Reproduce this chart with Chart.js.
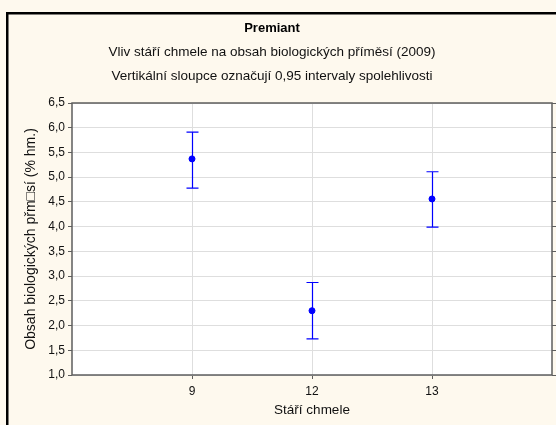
<!DOCTYPE html>
<html>
<head>
<meta charset="utf-8">
<script src="https://cdn.jsdelivr.net/npm/chart.js@4"></script>
<style>
  body { margin: 0; background: #fef9ee; }
  #wrap { width: 556px; height: 425px; }
</style>
</head>
<body>
<div id="wrap"><canvas id="chart"></canvas></div>
<script>
// Stáří chmele (kategorie) a průměry s 0,95 intervaly spolehlivosti
const kategorie = ['9', '12', '13'];
const prumer = [5.37, 2.30, 4.56];
const horniMez = [5.91, 2.87, 5.11];
const dolniMez = [4.78, 1.73, 3.99];
const yTicky = ['1,0', '1,5', '2,0', '2,5', '3,0', '3,5', '4,0', '4,5', '5,0', '5,5', '6,0', '6,5'];
const nadpis = 'Premiant';
const podnadpisy = ['Vliv stáří chmele na obsah biologických příměsí (2009)',
                    'Vertikální sloupce označují 0,95 intervaly spolehlivosti'];

const modra = '#0000ff';
const pismo = "'Liberation Sans', Arial, sans-serif";

// pozadí, rámeček grafu, nadpisy a rámeček plochy
const pozadi = {
  id: 'pozadi',
  beforeDraw(chart) {
    const ctx = chart.ctx;
    ctx.save();
    ctx.fillStyle = '#fef9ee';
    ctx.fillRect(0, 0, chart.width, chart.height);
    ctx.strokeStyle = '#000';
    ctx.lineWidth = 2.5;
    ctx.strokeRect(7.25, 13.25, chart.width + 20, chart.height + 20);
    const a = chart.chartArea;
    ctx.fillStyle = '#ffffff';
    ctx.fillRect(a.left, a.top, a.right - a.left, a.bottom - a.top);
    // nadpisy
    ctx.textAlign = 'center';
    ctx.textBaseline = 'middle';
    ctx.fillStyle = '#000';
    ctx.font = 'bold 13px ' + pismo;
    ctx.fillText(nadpis, 272, 28);
    ctx.fillStyle = '#111';
    ctx.font = '13.5px ' + pismo;
    podnadpisy.forEach((t, i) => ctx.fillText(t, 272, 52 + i * 24));
    ctx.restore();
  },
  afterDatasetsDraw(chart) {
    const ctx = chart.ctx;
    const a = chart.chartArea;
    const x = chart.scales.x, y = chart.scales.y;
    ctx.save();
    // chybové úsečky
    ctx.strokeStyle = modra;
    ctx.lineWidth = 1.2;
    kategorie.forEach((k, i) => {
      const px = Math.round(x.getPixelForValue(i + 1)) + 0.5;
      const top = y.getPixelForValue(horniMez[i]);
      const bot = y.getPixelForValue(dolniMez[i]);
      ctx.beginPath();
      ctx.moveTo(px, top); ctx.lineTo(px, bot);
      ctx.moveTo(px - 6, top); ctx.lineTo(px + 6, top);
      ctx.moveTo(px - 6, bot); ctx.lineTo(px + 6, bot);
      ctx.stroke();
    });
    // rámeček plochy
    ctx.strokeStyle = '#5e5e5e';
    ctx.lineWidth = 1.5;
    ctx.strokeRect(a.left, a.top, a.right - a.left, a.bottom - a.top);
    ctx.restore();
  }
};

new Chart(document.getElementById('chart'), {
  type: 'scatter',
  data: {
    datasets: [{
      data: prumer.map((v, i) => ({ x: i + 1, y: v })),
      backgroundColor: modra,
      borderColor: modra,
      pointRadius: 3,
      pointHoverRadius: 3
    }]
  },
  options: {
    responsive: true,
    maintainAspectRatio: false,
    animation: false,
    layout: { padding: { left: 0, right: 0, top: 103, bottom: 0 } },
    plugins: {
      legend: { display: false },
      tooltip: { enabled: false }
    },
    scales: {
      x: {
        type: 'linear',
        min: 0,
        max: 4,
        afterBuildTicks(s) { s.ticks = [1, 2, 3].map(v => ({ value: v })); },
        afterFit(s) { s.height = 50; },
        ticks: {
          color: '#111',
          font: { family: pismo, size: 12 },
          padding: 5,
          callback: (v) => kategorie[v - 1] || ''
        },
        grid: { color: '#dedede', tickLength: 4, tickColor: '#5e5e5e' },
        border: { display: false },
        title: {
          display: true,
          text: 'Stáří chmele',
          color: '#111',
          font: { family: pismo, size: 13.5 },
          padding: { top: 0, bottom: 7 }
        }
      },
      y: {
        min: 1,
        max: 6.5,
        afterFit(s) { s.width = 72; },
        ticks: {
          stepSize: 0.5,
          color: '#111',
          font: { family: pismo, size: 12 },
          padding: 3,
          callback: (v, i) => yTicky[i]
        },
        grid: { color: '#dedede', tickLength: 4, tickColor: '#5e5e5e' },
        border: { display: false },
        title: {
          display: true,
          text: 'Obsah biologických přm□sí (% hm.)',
          color: '#111',
          font: { family: pismo, size: 14 },
          padding: { top: 23, bottom: 0 }
        }
      },
      y2: {
        position: 'right',
        min: 1,
        max: 6.5,
        afterFit(s) { s.width = 4; },
        ticks: { stepSize: 0.5, display: false },
        grid: { drawOnChartArea: false, tickLength: 4, color: '#5e5e5e' },
        border: { display: false }
      }
    }
  },
  plugins: [pozadi]
});
</script>
</body>
</html>
